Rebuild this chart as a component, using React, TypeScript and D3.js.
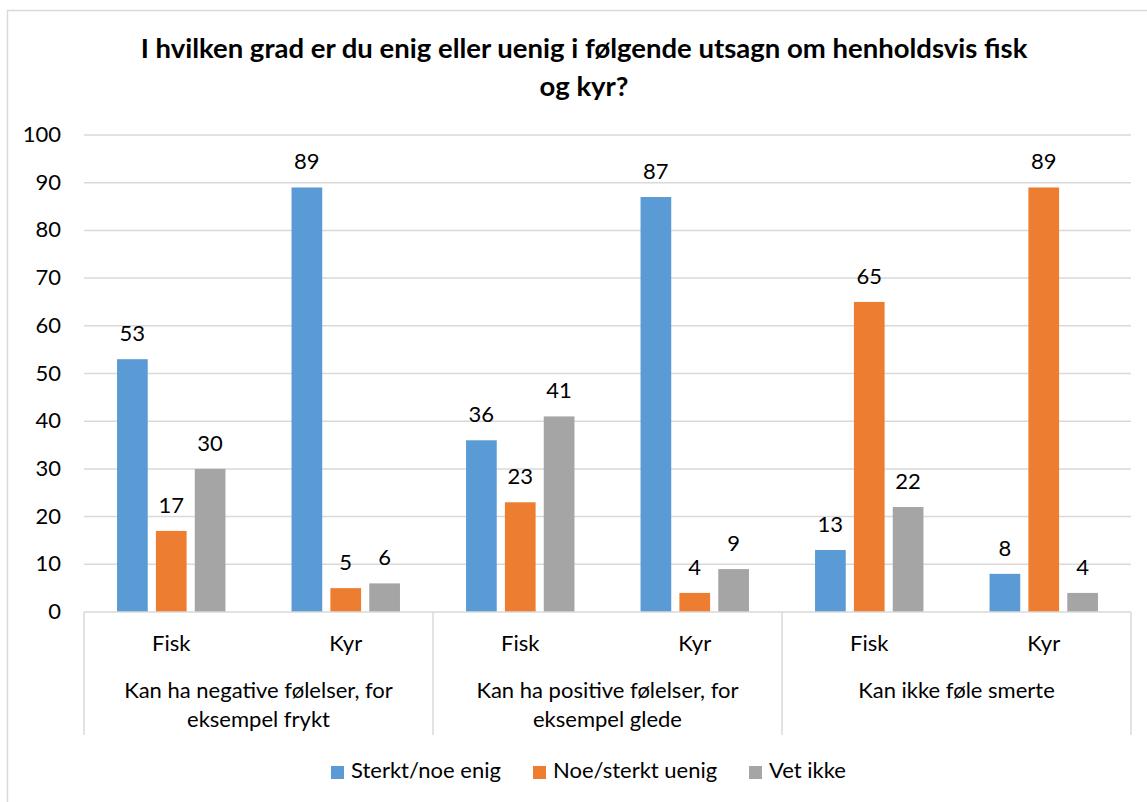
import React, { useEffect } from 'react'
import { scaleBand, scaleLinear, range } from 'd3'

// values
const groupLines = [
  ['Kan ha negative følelser, for', 'eksempel frykt'],
  ['Kan ha positive følelser, for', 'eksempel glede'],
  ['Kan ikke føle smerte'],
]
const animals = ['Fisk', 'Kyr', 'Fisk', 'Kyr', 'Fisk', 'Kyr']
const seriesNames = ['Sterkt/noe enig', 'Noe/sterkt uenig', 'Vet ikke']
const enig = [53, 89, 36, 87, 13, 8]
const uenig = [17, 5, 23, 4, 65, 89]
const vetIkke = [30, 6, 41, 9, 22, 4]
const yTicks = [0, 10, 20, 30, 40, 50, 60, 70, 80, 90, 100]
const titleLines = ['I hvilken grad er du enig eller uenig i følgende utsagn om henholdsvis fisk', 'og kyr?']

const colors = ['#5B9BD5', '#ED7D31', '#A5A5A5']
const FONT = 'Lato, "Liberation Sans", sans-serif'

const W = 1147
const H = 802

export default function App() {
  useEffect(() => {
    document.body.style.margin = '0'
  }, [])

  const values = [enig, uenig, vetIkke]

  const x0 = scaleBand<number>().domain(range(animals.length)).range([84, 1131])
  const x1 = scaleBand<number>()
    .domain(range(seriesNames.length))
    .range([0, x0.bandwidth()])
    .paddingInner(0.21)
    .paddingOuter(0.85)
  const y = scaleLinear().domain([0, 100]).range([612, 135])

  const [xl, xr] = x0.range()
  const axisBottom = y(0)
  const axisEnd = 735

  // group boundaries: every 2 sub categories
  const bounds = [0, 2, 4].map(i => x0(i)!).concat([xr])

  const legendX = [331, 533, 749]

  return (
    <svg width={W} height={H} style={{ display: 'block' }} fontFamily={FONT}>
      <rect x={0} y={0} width={W} height={H} fill="#fff" />
      {/* chart frame */}
      <line x1={7.5} x2={7.5} y1={10} y2={H} stroke="#d9d9d9" strokeWidth={1.5} />
      <line x1={7} x2={W} y1={10.5} y2={10.5} stroke="#d9d9d9" strokeWidth={1.5} />

      {/* title */}
      {titleLines.map((t, i) => (
        <text key={i} x={584} y={58 + i * 38} textAnchor="middle" fontWeight="bold" fontSize={27.5} fill="#000">
          {t}
        </text>
      ))}

      {/* grid */}
      {yTicks.map(t => (
        <g key={t}>
          {t > 0 && (
            <line x1={xl} x2={xr} y1={y(t)} y2={y(t)} stroke="#d9d9d9" strokeWidth={1.5} />
          )}
          <text x={61} y={y(t) + 7} textAnchor="end" fontSize={22} fill="#000">
            {t}
          </text>
        </g>
      ))}

      {/* bars */}
      {values.map((vals, s) =>
        vals.map((v, i) => (
          <g key={s + '-' + i}>
            <rect
              x={x0(i)! + x1(s)!}
              y={y(v)}
              width={x1.bandwidth()}
              height={y(0) - y(v)}
              fill={colors[s]}
            />
            <text
              x={x0(i)! + x1(s)! + x1.bandwidth() / 2}
              y={y(v) - 18}
              textAnchor="middle"
              fontSize={22}
              fill="#000"
            >
              {v}
            </text>
          </g>
        ))
      )}

      {/* category axis */}
      <line x1={xl} x2={xr} y1={axisBottom} y2={axisBottom} stroke="#d9d9d9" strokeWidth={1.5} />
      {bounds.map((b, i) => (
        <line key={i} x1={b} x2={b} y1={axisBottom} y2={axisEnd} stroke="#d9d9d9" strokeWidth={1.5} />
      ))}
      {animals.map((a, i) => (
        <text key={i} x={x0(i)! + x0.bandwidth() / 2} y={651} textAnchor="middle" fontSize={22} fill="#000">
          {a}
        </text>
      ))}
      {groupLines.map((lines, g) =>
        lines.map((l, j) => (
          <text
            key={g + '-' + j}
            x={(bounds[g] + bounds[g + 1]) / 2}
            y={698 + j * 29}
            textAnchor="middle"
            fontSize={22}
            fill="#000"
          >
            {l}
          </text>
        ))
      )}

      {/* legend */}
      {seriesNames.map((n, s) => (
        <g key={n}>
          <rect x={legendX[s]} y={766} width={13} height={13} fill={colors[s]} />
          <text x={legendX[s] + 20} y={778} fontSize={22} fill="#000">
            {n}
          </text>
        </g>
      ))}
    </svg>
  )
}
